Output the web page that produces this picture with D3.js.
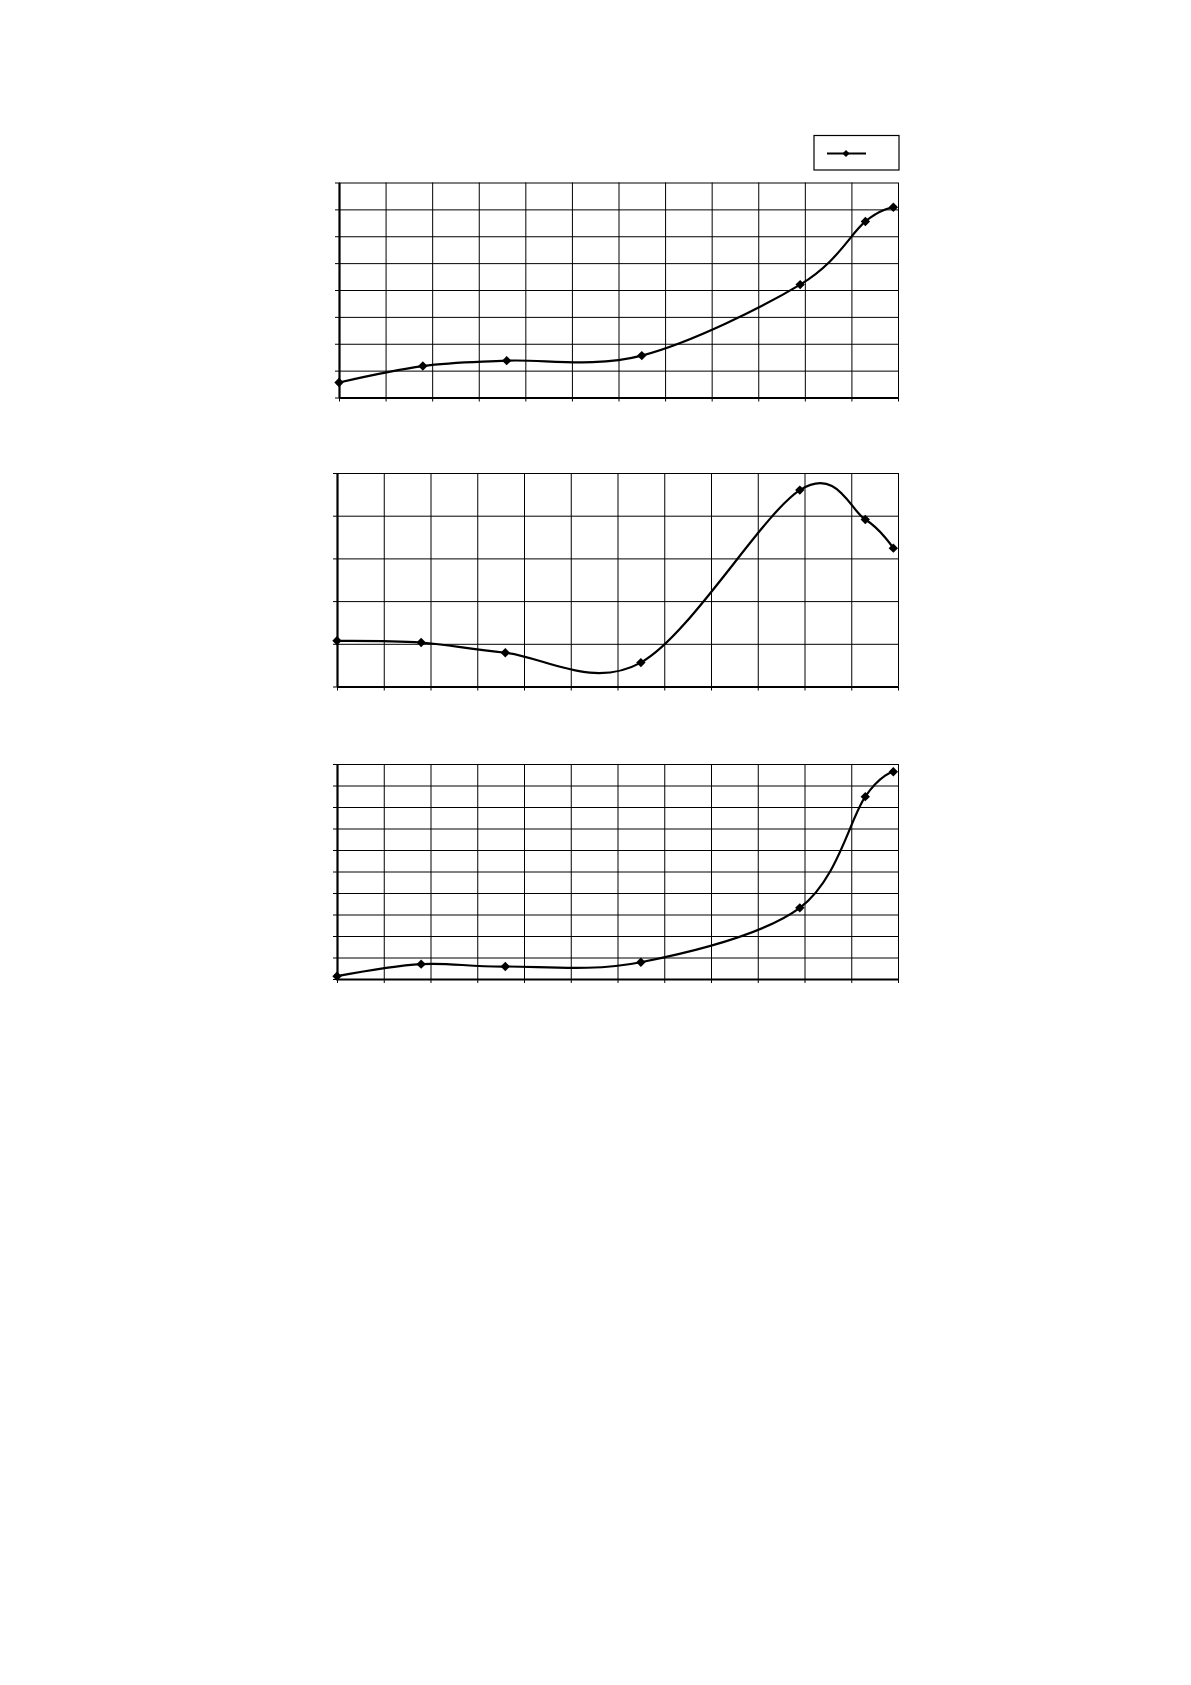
<!DOCTYPE html>
<html>
<head>
<meta charset="utf-8">
<script src="https://cdn.jsdelivr.net/npm/d3@7"></script>
<style>
  body { margin: 0; background: #fff; }
  svg { display: block; }
  .grid line { stroke: #000; stroke-width: 1; }
  .grid path { display: none; }
  .axis path { stroke: #000; stroke-width: 2.2; }
  .axis line { stroke: #000; stroke-width: 1; }
  .axis text { display: none; }
</style>
</head>
<body>
<div id="chart"></div>
<script>
// x positions of the measured points (same for all three panels)
var xValues = [0, 1.8, 3.6, 6.5, 9.9, 11.3, 11.9];
var xTicks = d3.range(0, 13, 1);

// panel values
var series1 = [0.56, 1.17, 1.37, 1.56, 4.20, 6.55, 7.08];
var series2 = [1.07, 1.03, 0.79, 0.56, 4.60, 3.91, 3.24];
var series3 = [0.13, 0.69, 0.58, 0.78, 3.31, 8.48, 9.64];

var yTicks1 = d3.range(0, 9, 1);
var yTicks2 = d3.range(0, 6, 1);
var yTicks3 = d3.range(0, 11, 1);

var width = 1191, height = 1685;

var svg = d3.select("#chart").append("svg")
  .attr("width", width)
  .attr("height", height);

// panel boxes (left, right, top, bottom)
var panels = [
  {values: series1, yTicks: yTicks1, box: [339, 898, 182.5, 397.5]},
  {values: series2, yTicks: yTicks2, box: [337, 898, 473, 686.5]},
  {values: series3, yTicks: yTicks3, box: [337, 898, 764, 979]}
];

var line = d3.line()
  .x(function(d){ return d[0]; })
  .y(function(d){ return d[1]; })
  .curve(d3.curveCardinal.tension(0));

// excel style diamond = square turned 45deg
var diamond = d3.symbol().type(d3.symbolSquare).size(44);

panels.forEach(function(p){
  var x = d3.scaleLinear().domain([0, 12]).range([p.box[0], p.box[1]]);
  var y = d3.scaleLinear().domain(d3.extent(p.yTicks)).range([p.box[3], p.box[2]]);
  var w = p.box[1] - p.box[0], h = p.box[3] - p.box[2];

  var g = svg.append("g");

  // vertical grid
  g.append("g")
    .attr("class", "grid")
    .attr("transform", "translate(0," + p.box[3] + ")")
    .call(d3.axisBottom(x).tickValues(xTicks).tickSizeInner(-h).tickSizeOuter(0).tickFormat(""));
  // horizontal grid
  g.append("g")
    .attr("class", "grid")
    .attr("transform", "translate(" + p.box[0] + ",0)")
    .call(d3.axisLeft(y).tickValues(p.yTicks).tickSizeInner(-w).tickSizeOuter(0).tickFormat(""));

  // axes with small outward ticks
  g.append("g")
    .attr("class", "axis")
    .attr("transform", "translate(0," + p.box[3] + ")")
    .call(d3.axisBottom(x).tickValues(xTicks).tickSizeInner(4).tickSizeOuter(0).tickFormat(""));
  g.append("g")
    .attr("class", "axis")
    .attr("transform", "translate(" + p.box[0] + ",0)")
    .call(d3.axisLeft(y).tickValues(p.yTicks).tickSizeInner(4).tickSizeOuter(0).tickFormat(""));

  var pts = p.values.map(function(v, i){ return [x(xValues[i]), y(v)]; });

  g.append("path")
    .attr("d", line(pts))
    .attr("fill", "none")
    .attr("stroke", "#000")
    .attr("stroke-width", 2.2);

  g.selectAll(".marker")
    .data(pts)
    .enter().append("path")
      .attr("class", "marker")
      .attr("transform", function(d){ return "translate(" + d + ") rotate(45)"; })
      .attr("d", diamond)
      .attr("fill", "#000");
});

// legend (no label text in the original)
var legend = svg.append("g").attr("transform", "translate(814,135.5)");
legend.append("rect")
  .attr("width", 85)
  .attr("height", 34.5)
  .attr("fill", "#fff")
  .attr("stroke", "#000")
  .attr("stroke-width", 1.2);
legend.append("line")
  .attr("x1", 13).attr("x2", 52)
  .attr("y1", 18).attr("y2", 18)
  .attr("stroke", "#000")
  .attr("stroke-width", 2);
legend.append("path")
  .attr("transform", "translate(32,18) rotate(45)")
  .attr("d", d3.symbol().type(d3.symbolSquare).size(26))
  .attr("fill", "#000");
</script>
</body>
</html>
